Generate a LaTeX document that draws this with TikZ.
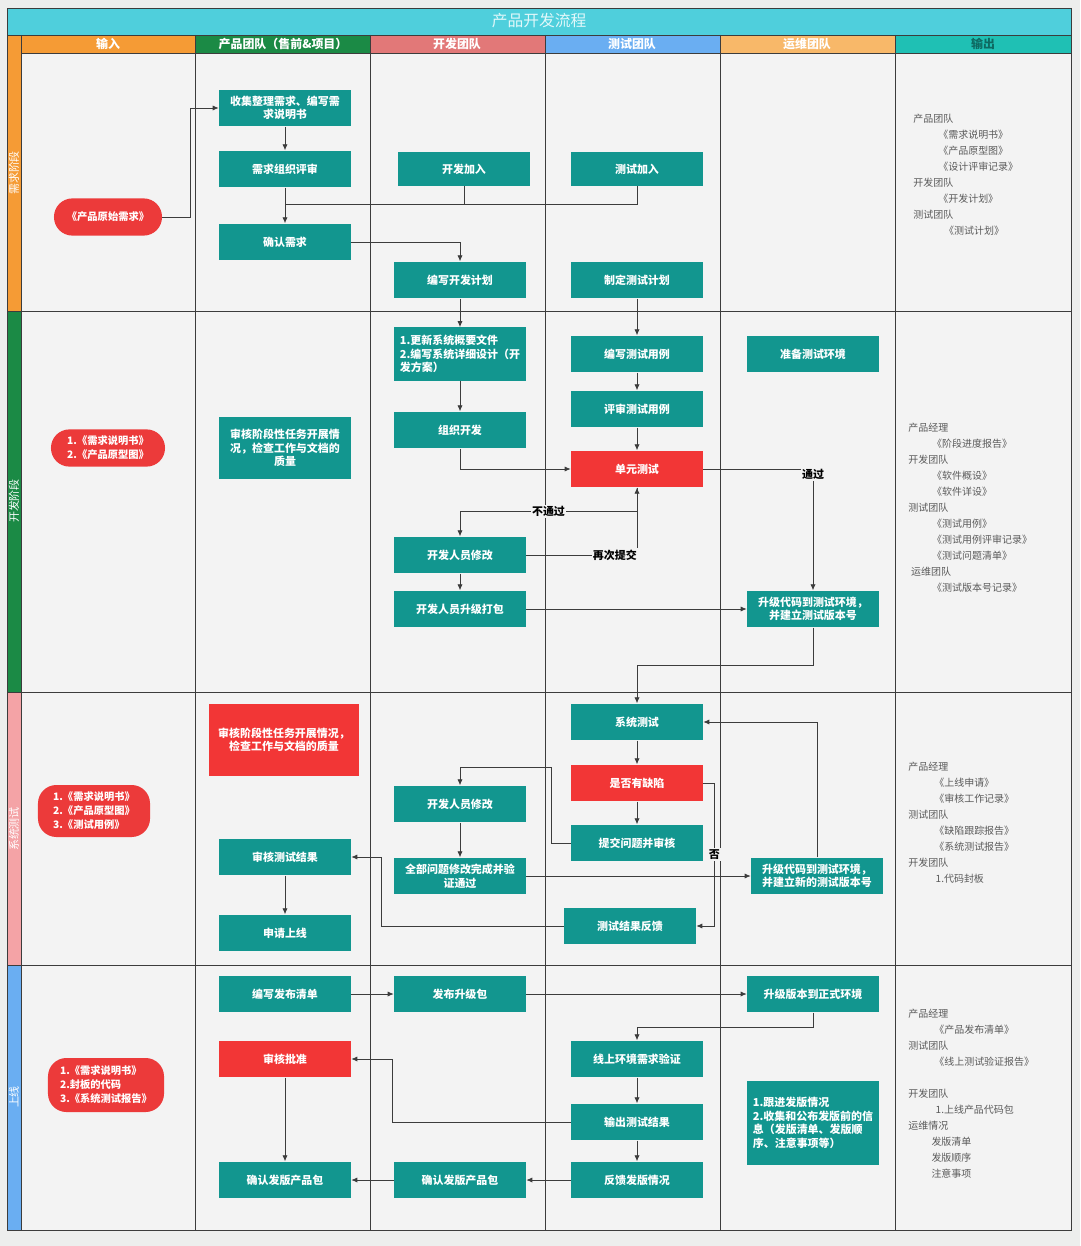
\documentclass[tikz,border=0pt]{standalone}
\usepackage{fontspec}
\setmainfont{Noto Sans CJK SC}
\usepackage{tikz}
\usetikzlibrary{arrows.meta}
\definecolor{pageGray}{HTML}{EDEEED}
\definecolor{cellGray}{HTML}{F3F3F3}
\definecolor{titleCyan}{HTML}{4FCFDC}
\definecolor{titleText}{HTML}{E2F8FA}
\definecolor{inputOrange}{HTML}{F59B35}
\definecolor{productGreen}{HTML}{1B8A45}
\definecolor{devSalmon}{HTML}{E27878}
\definecolor{testBlue}{HTML}{6AAEF2}
\definecolor{opsOrange}{HTML}{F8B869}
\definecolor{outTeal}{HTML}{1FC0B4}
\definecolor{outHeadText}{HTML}{0E6A62}
\definecolor{sysPink}{HTML}{F4A3A6}
\definecolor{procTeal}{HTML}{12968F}
\definecolor{checkRed}{HTML}{F23636}
\definecolor{docRed}{HTML}{EC3A3A}
\definecolor{lineGray}{HTML}{3C3C3C}
\definecolor{textGray}{HTML}{5A5A5A}
\tikzset{%
  >={Latex[width=1.3mm,length=1.5mm]},
  % Specifications for style of nodes:
         base/.style = {rectangle, minimum width=3.3cm, minimum height=0.92cm,
                        inner sep=2pt, align=center, text=white,
                        font=\bfseries\fontsize{7.8}{9.6}\selectfont},
      process/.style = {base, fill=procTeal},
        check/.style = {base, fill=checkRed},
     document/.style = {base, fill=docRed, rounded corners=0.46cm,
                        minimum width=2.7cm, minimum height=0.93cm,
                        font=\bfseries\fontsize{7.3}{10}\selectfont},
          tag/.style = {fill=cellGray, inner sep=1pt, text=black,
                        font=\bfseries\fontsize{7.8}{9}\selectfont},
      outList/.style = {anchor=north west, align=left, inner sep=0pt,
                        text=textGray, font=\fontsize{7.1}{11.4}\selectfont},
     laneHead/.style = {text=white, font=\bfseries\fontsize{8.5}{10}\selectfont},
    laneLabel/.style = {rotate=90, text=white, font=\fontsize{7.8}{9}\selectfont},
         link/.style = {->, draw=lineGray, line width=0.6pt},
}
\begin{document}
\begin{tikzpicture}[x=0.025cm, y=-0.025cm]
  \useasboundingbox (0,0) rectangle (1080,1246);
  % Background, title and swimlane grid
  \fill[pageGray] (0,0) rectangle (1080,1246);
  \fill[cellGray] (21,53) rectangle (1071,1230);
  \fill[titleCyan] (7,8) rectangle (1071,35);
  \node (title) [text=titleText, font=\fontsize{11.2}{13}\selectfont]
        at (539,21) {产品开发流程};
  \fill[inputOrange]  (7,35)   rectangle (195,53);
  \fill[productGreen] (195,35) rectangle (370,53);
  \fill[devSalmon]    (370,35) rectangle (545,53);
  \fill[testBlue]     (545,35) rectangle (720,53);
  \fill[opsOrange]    (720,35) rectangle (895,53);
  \fill[outTeal]      (895,35) rectangle (1071,53);
  \fill[inputOrange]  (7,53)   rectangle (21,311);
  \fill[productGreen] (7,311)  rectangle (21,692);
  \fill[sysPink]      (7,692)  rectangle (21,965);
  \fill[testBlue]     (7,965)  rectangle (21,1230);
  \draw[lineGray, line width=0.7pt] (7,8) rectangle (1071,1230);
  \draw[lineGray, line width=0.7pt]
        (7,35) -- (1071,35)  (21,53) -- (1071,53)
        (7,311) -- (1071,311)  (7,692) -- (1071,692)  (7,965) -- (1071,965)
        (21,35) -- (21,1230)  (195,35) -- (195,1230)  (370,35) -- (370,1230)
        (545,35) -- (545,1230)  (720,35) -- (720,1230)  (895,35) -- (895,1230);
  \node (inputHead)   [laneHead] at (108,44)  {输入};
  \node (productHead) [laneHead] at (283,44)  {产品团队（售前\&项目）};
  \node (devHead)     [laneHead] at (457,44)  {开发团队};
  \node (testHead)    [laneHead] at (632,44)  {测试团队};
  \node (opsHead)     [laneHead] at (807,44)  {运维团队};
  \node (outHead)     [laneHead, text=outHeadText] at (983,44) {输出};
  \node (needLane)    [laneLabel] at (14,173)  {需求阶段};
  \node (devLane)     [laneLabel] at (14,501)  {开发阶段};
  \node (sysLane)     [laneLabel] at (14,829)  {系统测试};
  \node (onlineLane)  [laneLabel] at (14,1097) {上线};

  % Specification of nodes: requirement stage
  \node (rawNeed)      [document] at (108,217) {《产品原始需求》};
  \node (collectBlock) [process]  at (285,108) {收集整理需求、编写需\\求说明书};
  \node (reviewBlock)  [process]  at (285,169) {需求组织评审};
  \node (confirmBlock) [process]  at (285,242) {确认需求};
  \node (devJoin)      [process, minimum height=0.86cm] at (464,169) {开发加入};
  \node (devPlan)      [process]  at (460,280) {编写开发计划};
  \node (testJoin)     [process, minimum height=0.86cm] at (637,169) {测试加入};
  \node (testPlan)     [process]  at (637,280) {制定测试计划};
  \coordinate (joinPoint) at (285,204);
  \node (needOut) [outList] at (913,113.5)
        {产品团队\\\hspace*{17.8pt}《需求说明书》\\\hspace*{17.8pt}《产品原型图》\\
         \hspace*{17.8pt}《设计评审记录》\\开发团队\\\hspace*{17.8pt}《开发计划》\\
         测试团队\\\hspace*{22pt}《测试计划》};

  % Specification of nodes: development stage
  \node (docsDev)     [document, minimum width=2.85cm, align=left] at (108,448)
                      {1.《需求说明书》\\2.《产品原型图》};
  \node (auditDev)    [process, minimum height=1.55cm] at (285,448)
                      {审核阶段性任务开展情\\况，检查工作与文档的\\质量};
  \node (designBlock) [process, minimum height=1.33cm, align=left] at (460,354)
                      {1.更新系统概要文件\\2.编写系统详细设计（开\\发方案）};
  \node (buildBlock)  [process] at (460,430) {组织开发};
  \node (devFix)      [process] at (460,555) {开发人员修改};
  \node (devPack)     [process] at (460,609) {开发人员升级打包};
  \node (writeCase)   [process] at (637,354) {编写测试用例};
  \node (reviewCase)  [process] at (637,409) {评审测试用例};
  \node (unitTest)    [check]   at (637,469) {单元测试};
  \node (prepEnv)     [process] at (813,354) {准备测试环境};
  \node (deployTest)  [process] at (813,609) {升级代码到测试环境，\\并建立测试版本号};
  \node (devOut) [outList] at (908,422.5)
        {产品经理\\\hspace*{17pt}《阶段进度报告》\\开发团队\\\hspace*{17pt}《软件概设》\\
         \hspace*{17pt}《软件详设》\\测试团队\\\hspace*{17pt}《测试用例》\\
         \hspace*{17pt}《测试用例评审记录》\\\hspace*{17pt}《测试问题清单》\\
         \hspace*{2pt}运维团队\\\hspace*{17pt}《测试版本号记录》};

  % Specification of nodes: system test stage
  \node (docsTest)     [document, minimum width=2.8cm, minimum height=1.3cm,
                        align=left] at (94,811)
                       {1.《需求说明书》\\2.《产品原型图》\\3.《测试用例》};
  \node (auditTest)    [check, minimum width=3.73cm, minimum height=1.78cm]
                       at (284,740) {审核阶段性任务开展情况，\\检查工作与文档的质量};
  \node (auditResult)  [process] at (285,857) {审核测试结果};
  \node (applyOnline)  [process] at (285,933) {申请上线};
  \node (devFixSys)    [process] at (460,804) {开发人员修改};
  \node (allFixed)     [process] at (460,876) {全部问题修改完成并验\\证通过};
  \node (sysTest)      [process] at (637,722) {系统测试};
  \node (defectCheck)  [check]   at (637,783) {是否有缺陷};
  \node (submitIssue)  [process] at (637,843) {提交问题并审核};
  \node (testFeedback) [process] at (630,926) {测试结果反馈};
  \node (deployNew)    [process, align=left] at (817,876)
                       {升级代码到测试环境，\\并建立新的测试版本号};
  \node (sysOut) [outList] at (908,761.5)
        {产品经理\\\hspace*{18.5pt}《上线申请》\\\hspace*{18.5pt}《审核工作记录》\\
         测试团队\\\hspace*{18.5pt}《缺陷跟踪报告》\\\hspace*{18.5pt}《系统测试报告》\\
         开发团队\\\hspace*{19.5pt}1.代码封板};

  % Specification of nodes: release stage
  \node (docsRelease)   [document, minimum width=2.9cm, minimum height=1.35cm,
                         align=left] at (106,1085)
                        {1.《需求说明书》\\2.封板的代码\\3.《系统测试报告》};
  \node (releaseList)   [process] at (285,994)  {编写发布清单};
  \node (approveBlock)  [check]   at (285,1059) {审核批准};
  \node (confirmPkgP)   [process] at (285,1180) {确认发版产品包};
  \node (publishPkg)    [process] at (460,994)  {发布升级包};
  \node (confirmPkgD)   [process] at (460,1180) {确认发版产品包};
  \node (onlineVerify)  [process] at (637,1059) {线上环境需求验证};
  \node (outputResult)  [process] at (637,1122) {输出测试结果};
  \node (feedbackRelease) [process] at (637,1180) {反馈发版情况};
  \node (upgradeProd)   [process] at (813,994)  {升级版本到正式环境};
  \node (followRelease) [process, minimum height=2.08cm, align=left] at (813,1123)
        {1.跟进发版情况\\2.收集和公布发版前的信\\息（发版清单、发版顺\\序、注意事项等）};
  \node (releaseOut) [outList] at (908,1008.5)
        {产品经理\\\hspace*{18.5pt}《产品发布清单》\\测试团队\\
         \hspace*{18.5pt}《线上测试验证报告》\\[11.4pt]开发团队\\
         \hspace*{19.5pt}1.上线产品代码包\\运维情况\\\hspace*{16.5pt}发版清单\\
         \hspace*{16.5pt}发版顺序\\\hspace*{16.5pt}注意事项};

  % Specification of lines between nodes specified above
  \draw[link] (rawNeed.east) -- ++(28,0) |- (collectBlock.west);
  \draw[link] (collectBlock) -- (reviewBlock);
  \draw[link] (reviewBlock) -- (confirmBlock);
  \draw[link,-] (devJoin.south) |- (joinPoint);
  \draw[link,-] (testJoin.south) |- (joinPoint);
  \draw[link] (confirmBlock.east) -| (devPlan.north);
  \draw[link] (devPlan) -- (designBlock);
  \draw[link] (testPlan) -- (writeCase);

  \draw[link] (designBlock) -- (buildBlock);
  \draw[link] (buildBlock.south) |- (unitTest.west);
  \draw[link] (writeCase) -- (reviewCase);
  \draw[link] (reviewCase) -- (unitTest);
  \draw[link] (unitTest.east) -| node[tag, yshift=-4pt] {通过} (deployTest.north);
  \draw[link] (unitTest.south) -- ++(0,24) -| node[tag, pos=0.25] {不通过}
              (devFix.north);
  \draw[link] (devFix.east) -| node[tag, pos=0.4] {再次提交} (unitTest.south);
  \draw[link] (devFix) -- (devPack);
  \draw[link] (devPack) -- (deployTest);
  \draw[link] (deployTest.south) -- ++(0,38) -| (sysTest.north);

  \draw[link] (sysTest) -- (defectCheck);
  \draw[link] (defectCheck) -- (submitIssue);
  \draw[link] (submitIssue.west) -- ++(-19,0) -- ++(0,-76) -| (devFixSys.north);
  \draw[link] (devFixSys) -- (allFixed);
  \draw[link] (allFixed) -- (deployNew);
  \draw[link] (deployNew.north) |- (sysTest.east);
  \draw[link] (defectCheck.east) -- ++(11,0) |- node[tag, pos=0.25] {否}
              (testFeedback.east);
  \draw[link] (testFeedback.west) -- ++(-182,0) |- (auditResult.east);
  \draw[link] (auditResult) -- (applyOnline);

  \draw[link] (releaseList) -- (publishPkg);
  \draw[link] (publishPkg) -- (upgradeProd);
  \draw[link] (upgradeProd.south) -- ++(0,15) -| (onlineVerify.north);
  \draw[link] (onlineVerify) -- (outputResult);
  \draw[link] (outputResult) -- (feedbackRelease);
  \draw[link] (outputResult.west) -- ++(-178,0) |- (approveBlock.east);
  \draw[link] (approveBlock) -- (confirmPkgP);
  \draw[link] (feedbackRelease) -- (confirmPkgD);
  \draw[link] (confirmPkgD) -- (confirmPkgP);
\end{tikzpicture}
\end{document}
